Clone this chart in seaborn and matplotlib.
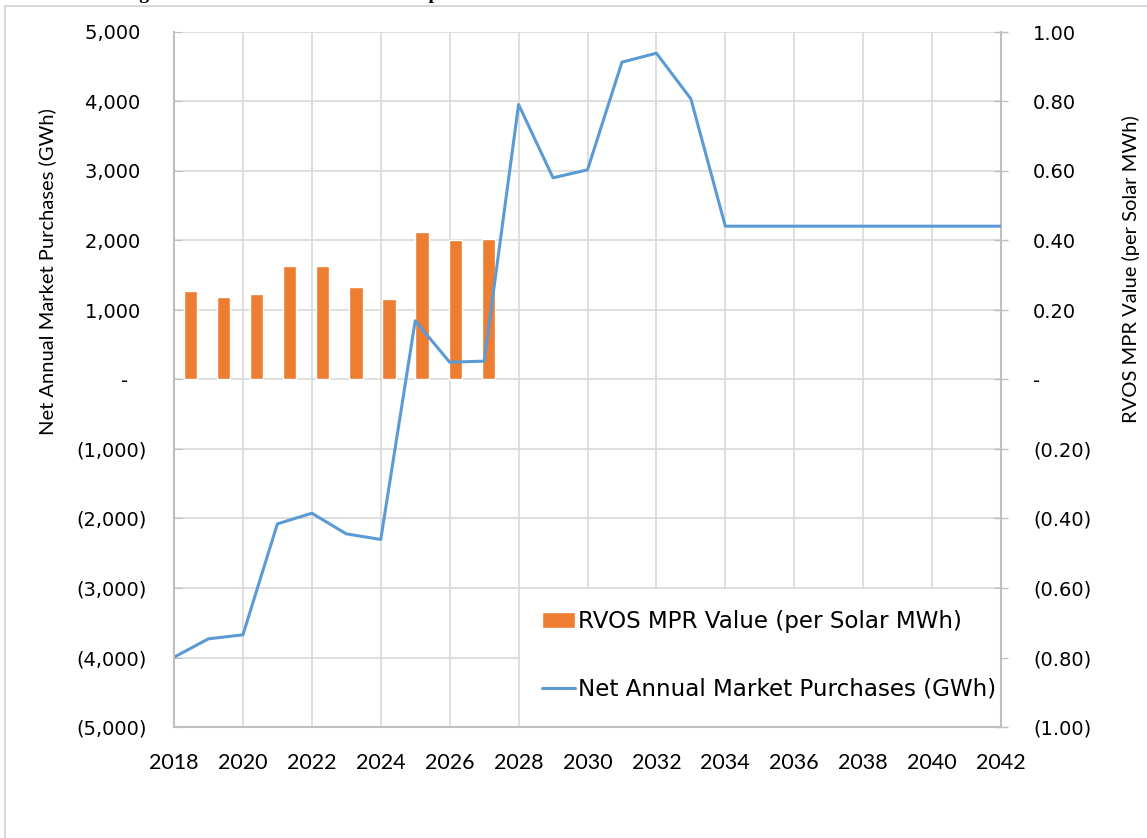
import numpy as np
import pandas as pd
import matplotlib.pyplot as plt
import seaborn as sns
from matplotlib.lines import Line2D
from matplotlib.patches import Rectangle
from matplotlib.ticker import FuncFormatter

# data
years = list(range(2018, 2043))
net_purchases = [-3996, -3731, -3674, -2077, -1924, -2221, -2302, 845, 249, 264,
                 3957, 2902, 3017, 4566, 4695, 4038, 2206, 2206, 2206, 2206,
                 2206, 2206, 2206, 2206, 2206]
bar_years = [str(y) for y in range(2018, 2028)]
mpr_value = [0.256, 0.237, 0.247, 0.326, 0.327, 0.265, 0.232, 0.425, 0.400, 0.403]

line_label = "Net Annual Market Purchases (GWh)"
bar_label = "RVOS MPR Value (per Solar MWh)"
left_ylabel = "Net Annual Market Purchases (GWh)"
right_ylabel = "RVOS MPR Value (per Solar MWh)"

BLUE = "#5B9BD5"
ORANGE = "#ED7D31"
GRID = "#d9d9d9"
SPINE = "#bfbfbf"
NARROW = ["Lato", "DejaVu Sans"]

sns.set_style("white")
plt.rcParams["font.family"] = ["DejaVu Sans"]
plt.rcParams["text.color"] = "black"
plt.rcParams["axes.labelcolor"] = "black"
plt.rcParams["xtick.color"] = "black"
plt.rcParams["ytick.color"] = "black"

df_line = pd.DataFrame({"year": years, "gwh": net_purchases})
df_bar = pd.DataFrame({"year": bar_years, "mpr": mpr_value})

fig = plt.figure(figsize=(11.47, 8.38), dpi=100, facecolor="white")
ax = fig.add_axes([174 / 1147, 1 - 727 / 838, 827 / 1147, 695 / 838])
ax2 = ax.twinx()
ax3 = ax2.twiny()

# grid + right axis on ax2
ax2.set_ylim(-1, 1)
ax2.set_yticks(np.arange(-1, 1.001, 0.2))
ax2.xaxis.set_visible(True)
ax2.set_axisbelow(True)
ax2.grid(True, color=GRID, linewidth=1.2)
ax2.tick_params(axis="x", labelbottom=False, labeltop=False, length=0)


def fmt_right(v, pos):
    if abs(v) < 1e-9:
        return "-"
    return f"{v:.2f}" if v > 0 else f"({abs(v):.2f})"


ax2.yaxis.set_major_formatter(FuncFormatter(fmt_right))
ax2.tick_params(axis="y", direction="inout", length=9.4, width=1, color=SPINE,
                labelcolor="black", pad=18.4, labelsize=14)
ax2.set_ylabel(right_ylabel, fontsize=14.5, family=NARROW, rotation=90)
ax2.yaxis.set_label_coords(1.146, 0.659)
for s in ["top", "left", "bottom"]:
    ax2.spines[s].set_visible(False)
ax2.spines["right"].set_color(SPINE)
ax2.spines["right"].set_linewidth(1.5)
ax2.add_patch(Rectangle((0.418, 0.0), 0.582, 0.198, transform=ax2.transAxes,
                        facecolor="white", edgecolor="none", zorder=1))

# bars on a category axis of 25 years
sns.barplot(data=df_bar, x="year", y="mpr", order=[str(y) for y in years],
            color=ORANGE, saturation=1, width=0.4, ax=ax3)
ax3.set_xlim(-0.5, len(years) - 0.5)
ax3.set_ylim(-1, 1)
ax3.xaxis.set_visible(False)
for s in ax3.spines.values():
    s.set_visible(False)

# line + left axis on top
sns.lineplot(data=df_line, x="year", y="gwh", ax=ax, color=BLUE, linewidth=2.2)
ax.set_zorder(5)
ax.patch.set_visible(False)
ax.set_xlim(2018, 2042)
ax.set_ylim(-5000, 5000)
ax.set_xticks(range(2018, 2043, 2))
ax.set_yticks(range(-5000, 5001, 1000))


def fmt_left(v, pos):
    if abs(v) < 1e-9:
        return "-   "
    return f"{v:,.0f} " if v > 0 else f"({abs(v):,.0f})"


ax.yaxis.set_major_formatter(FuncFormatter(fmt_left))
ax.tick_params(axis="y", direction="in", length=6, color=SPINE,
               labelcolor="black", pad=19.5, labelsize=14)
ax.tick_params(axis="x", length=0, pad=19, labelcolor="black")
for lab in ax.get_xticklabels():
    lab.set_family(NARROW)
    lab.set_fontsize(15.5)
ax.set_xlabel("")
ax.set_ylabel(left_ylabel, fontsize=14.5, family=NARROW)
ax.yaxis.set_label_coords(-0.143, 0.656)
ax.grid(False)
for s in ["top", "right"]:
    ax.spines[s].set_visible(False)
for s in ["left", "bottom"]:
    ax.spines[s].set_color(SPINE)
    ax.spines[s].set_linewidth(1.5)

handles = [ax3.patches[0], ax.get_lines()[0]]
ax.legend(handles, [bar_label, line_label], loc="upper left",
          bbox_to_anchor=(0.418, 0.2), frameon=False, fontsize=16.6,
          borderpad=0.95, borderaxespad=0, handlelength=1.43,
          handletextpad=0.13, labelspacing=1.95)

# outer frame (top and left edges) and clipped heading above
fig.add_artist(Line2D([5 / 1147, 1], [1 - 6 / 838] * 2, transform=fig.transFigure,
                      color=GRID, linewidth=1.5))
fig.add_artist(Line2D([5 / 1147] * 2, [0, 1 - 6 / 838], transform=fig.transFigure,
                      color=GRID, linewidth=1.5))
fig.text(122 / 1147, 1 + 1 / 838, "Figure 5: Net Market Purchases compared to RVOS MPR Value",
         family="Liberation Serif", weight="bold", fontsize=14, va="baseline")

fig.savefig("out.png", dpi=100, facecolor="white")
